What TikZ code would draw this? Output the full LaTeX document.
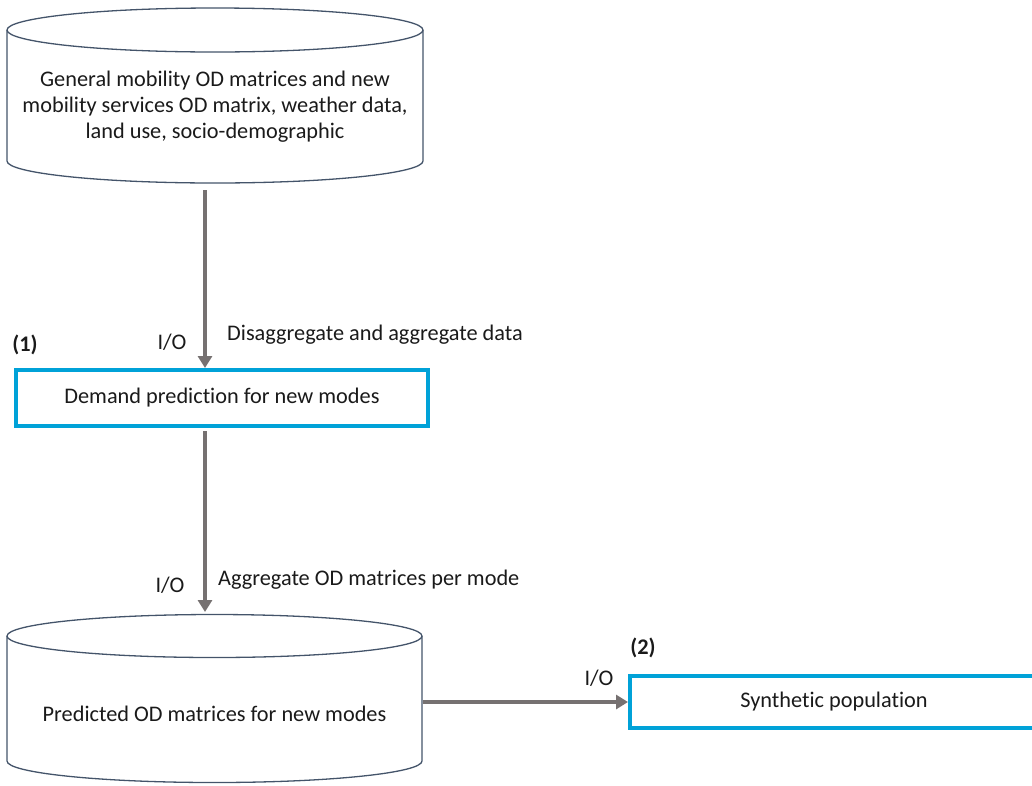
\documentclass[tikz,border=0pt]{standalone}
\usepackage{fontspec}
\setmainfont[RawFeature=-liga]{Carlito}
\usetikzlibrary{arrows.meta,calc}
\definecolor{flowgrey}{HTML}{767171}
\definecolor{stepblue}{HTML}{00A2D8}
\definecolor{dbedge}{HTML}{44546A}
\definecolor{ink}{HTML}{1A1A1A}
\newcommand{\labfont}{\fontsize{22.3}{26}\selectfont}
\tikzset{
  txt/.style={font=\labfont, text=ink, inner sep=0pt},
  stepbox/.style={draw=stepblue, line width=4pt, fill=white, minimum height=52pt,
    font=\labfont, text=ink},
  dbline/.style={draw=dbedge, line width=1.3pt},
  flow/.style={draw=flowgrey, line width=4pt,
    -{Triangle[length=12pt,width=14pt]}},
}
\begin{document}
\begin{tikzpicture}[x=1pt,y=1pt]
\useasboundingbox (0,0) rectangle (1032,-785);

% input database (cylinder)
\draw[dbline] (215,-30) ellipse [x radius=208pt, y radius=22pt];
\draw[dbline] (7,-30) -- (7,-161)
  arc [start angle=180, end angle=360, x radius=208pt, y radius=22pt]
  -- (423,-30);
\node[txt, align=center] (src) at (215,-107)
  {General mobility OD matrices and new\\mobility services OD matrix, weather data,\\land use, socio-demographic};
\coordinate (srcout) at (205,-190);

% output database (cylinder)
\draw[dbline] (214.5,-636) ellipse [x radius=207.5pt, y radius=21.5pt];
\draw[dbline] (7,-636) -- (7,-761)
  arc [start angle=180, end angle=360, x radius=207.5pt, y radius=21.5pt]
  -- (422,-636);
\node[txt] (pred) at (214.5,-714) {Predicted OD matrices for new modes};
\coordinate (predin) at (205,-612);
\coordinate (predout) at (423,-702);

% process steps
\node[stepbox, minimum width=412pt, minimum height=56pt] (demand) at (222,-398)
  {\raisebox{-2pt}{Demand prediction for new modes}};
\node[stepbox, minimum width=408pt] (synth) at (834,-702)
  {\raisebox{-1pt}{Synthetic population}};

% connectors
\draw[flow] (srcout) -- (srcout |- demand.north);
\draw[flow] ($(srcout |- demand.south)+(0,-3)$) -- (predin);
\draw[flow] (predout) -- (synth.west);

% labels
\node[txt, font=\labfont\bfseries] (n1) at (25,-345) {(1)};
\node[txt] (io1) at (172,-342) {I/O};
\node[txt, anchor=west] (l1) at (227,-335) {Disaggregate and aggregate data};
\node[txt] (io2) at (170,-585) {I/O};
\node[txt, anchor=west] (l2) at (218,-580) {Aggregate OD matrices per mode};
\node[txt, font=\labfont\bfseries] (n2) at (643,-648) {(2)};
\node[txt] (io3) at (599,-678) {I/O};
\end{tikzpicture}
\end{document}
